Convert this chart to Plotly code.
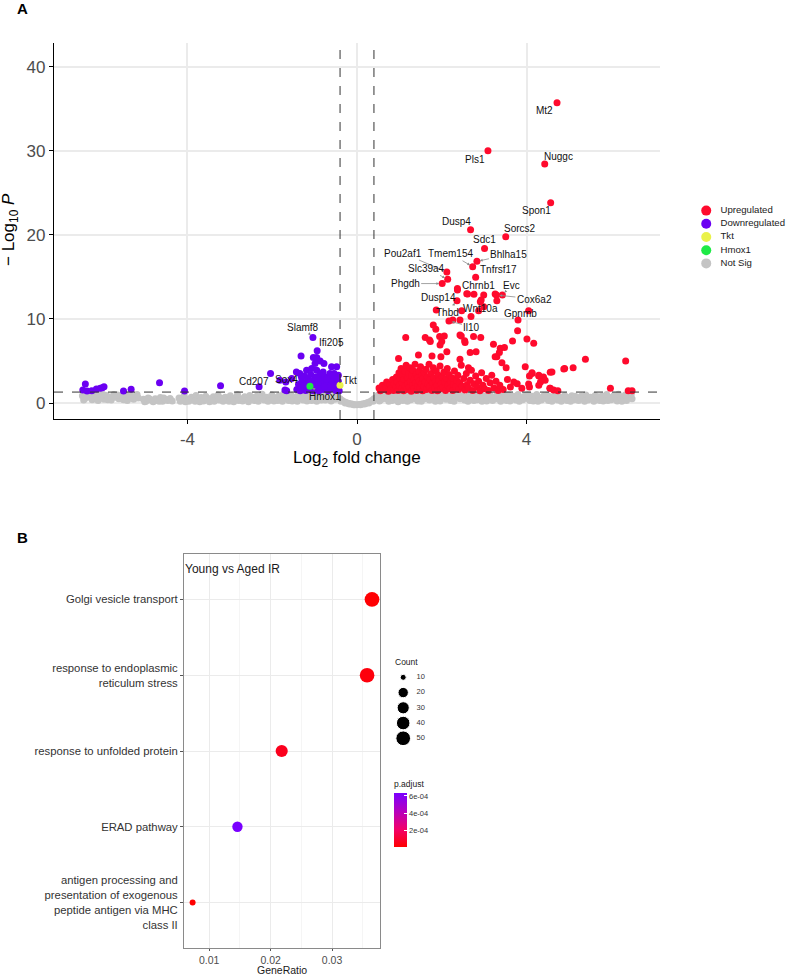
import plotly.graph_objects as go
import numpy as np

W, H = 789, 978
FONT = "Liberation Sans, Arial, sans-serif"

# ---------------- Panel A data (volcano) ----------------
fc_cutoff = 0.4
p_cutoff = 0.05

up_points = [
    (1.80, 9.27), (1.86, 8.76), (1.95, 7.9), (2.0, 7.3), (1.15, 7.8), (1.71, 7.5), (2.43, 8.1), (2.54, 7.4),
    (2.75, 7.9), (2.92, 7.8), (2.12, 6.1), (1.98, 5.5), (2.43, 5.2), (2.63, 4.2), (2.81, 6.1), (3.22, 7.0),
    (3.38, 6.5), (3.30, 5.5), (3.42, 4.8), (3.52, 4.2), (3.79, 8.6), (4.01, 7.6), (4.17, 7.1), (3.97, 4.3),
    (4.13, 3.5), (4.29, 3.2), (4.40, 3.1), (4.60, 3.7), (4.90, 4.1), (3.78, 2.3), (4.07, 1.9), (4.56, 1.75),
    (0.98, 5.3), (1.45, 5.7), (2.37, 13.6), (2.59, 13.0), (2.99, 12.84), (3.26, 12.96), (2.91, 12.05),
    (2.26, 9.87), (2.43, 9.87), (2.69, 10.3), (2.47, 10.97), (2.87, 10.97), (2.99, 11.45), (2.61, 12.96),
    (1.87, 11.06), (4.05, 10.97), (3.80, 9.87), (1.61, 7.8), (1.96, 6.9), (2.06, 7.97), (1.73, 7.3),
    (2.46, 7.97), (2.55, 7.2), (3.48, 6.6), (3.67, 7.37), (3.36, 6.0), (3.26, 5.5), (2.67, 6.0), (1.77, 5.6),
    (5.39, 5.2), (6.34, 5.0), (4.13, 3.6), (4.07, 3.2), (4.29, 3.3), (4.56, 3.65), (4.44, 2.7), (4.33, 2.5),
    (4.29, 2.1), (4.05, 2.26), (4.88, 4.04), (5.10, 4.2), (4.55, 1.75), (4.64, 1.55), (4.74, 1.46),
    (5.98, 1.75), (6.40, 1.46), (6.49, 1.46), (3.89, 1.75),
    (0.52, 1.78), (0.55, 1.45), (0.6, 2.1), (0.63, 1.6), (0.68, 1.9), (0.7, 2.5), (0.74, 1.4), (0.78, 2.2),
    (0.8, 1.7), (0.84, 2.8), (0.86, 1.5), (0.88, 2.3),
    (0.92, 1.9), (0.93, 3.1), (0.95, 2.5), (0.97, 1.5), (0.99, 3.6), (1.0, 2.1), (1.02, 2.9), (1.04, 4.1),
    (1.05, 1.7), (1.07, 2.4), (1.08, 3.3), (1.1, 1.45), (1.11, 2.8), (1.13, 3.8), (1.14, 2.0), (1.16, 4.5),
    (1.17, 1.6), (1.19, 3.0), (1.2, 2.3), (1.22, 3.5), (1.23, 1.9), (1.25, 4.2), (1.26, 2.6), (1.28, 1.4),
    (1.29, 3.2), (1.31, 2.1), (1.32, 3.9), (1.34, 1.7), (1.35, 2.8), (1.37, 4.6), (1.38, 2.4), (1.4, 3.4),
    (1.41, 1.5), (1.43, 2.0), (1.44, 3.0), (1.46, 3.8), (1.47, 2.6), (1.49, 1.8), (1.5, 4.3), (1.52, 2.3),
    (1.53, 3.3), (1.55, 1.45), (1.56, 2.9), (1.58, 2.0), (1.59, 3.6),
    (1.61, 2.5), (1.63, 4.0), (1.64, 1.6), (1.66, 3.1), (1.68, 2.2), (1.7, 4.6), (1.71, 1.9), (1.73, 2.8),
    (1.75, 3.5), (1.77, 1.5), (1.78, 2.4), (1.8, 4.2), (1.82, 3.0), (1.83, 1.8), (1.85, 2.6), (1.87, 3.8),
    (1.89, 2.1), (1.9, 1.45), (1.92, 3.3), (1.94, 2.7), (1.96, 4.4), (1.97, 1.7), (1.99, 2.3), (2.01, 3.1),
    (2.03, 1.9), (2.05, 3.7), (2.07, 2.5), (2.09, 1.5), (2.11, 2.9), (2.13, 4.1), (2.15, 2.1), (2.17, 3.4),
    (2.19, 1.7), (2.21, 2.6), (2.24, 3.0), (2.26, 1.5), (2.28, 2.2), (2.3, 3.8), (2.33, 1.9), (2.35, 2.7),
    (2.38, 3.3), (2.4, 1.6), (2.43, 2.4), (2.46, 4.5), (2.48, 2.0),
    (2.52, 2.9), (2.55, 1.55), (2.58, 3.5), (2.6, 2.2), (2.63, 1.8), (2.67, 2.7), (2.7, 3.9), (2.73, 1.5),
    (2.76, 2.3), (2.8, 3.2), (2.83, 1.9), (2.87, 2.6), (2.9, 1.45), (2.94, 3.6), (2.97, 2.1), (3.01, 1.7),
    (3.05, 2.9), (3.1, 1.5), (3.14, 2.4), (3.18, 3.3), (3.23, 1.8), (3.28, 2.6), (3.33, 1.5), (3.37, 2.1),
    (3.45, 1.6), (3.55, 2.8), (3.62, 1.9), (3.7, 2.5),
]

down_points = [
    (-6.41, 2.26), (-6.47, 1.55), (-6.37, 1.43), (-6.26, 1.46), (-6.15, 1.66), (-6.06, 1.75), (-6.01, 1.82),
    (-5.97, 1.94), (-5.51, 1.43), (-5.33, 1.63), (-4.66, 2.4), (-4.07, 1.43), (-3.22, 2.06), (-2.31, 1.94),
    (-1.82, 2.7), (-1.68, 2.5), (-1.54, 2.9), (-1.35, 3.5), (-1.31, 3.06), (-1.19, 3.9), (-1.07, 4.1),
    (-0.95, 3.9), (-0.80, 3.7), (-0.64, 3.5), (-0.54, 3.5), (-0.44, 3.3), (-1.66, 1.46), (-1.70, 1.55),
    (-1.32, 5.6), (-1.03, 5.4), (-0.95, 5.4), (-0.87, 5.0), (-0.78, 4.7), (-0.99, 4.7), (-0.60, 4.3),
    (-0.48, 4.3),
    (-1.42, 1.6), (-1.38, 2.2), (-1.34, 1.45), (-1.3, 2.6), (-1.27, 1.9), (-1.24, 3.2), (-1.21, 1.5),
    (-1.18, 2.4), (-1.15, 2.9), (-1.12, 1.6), (-1.09, 3.4), (-1.06, 2.1), (-1.03, 1.45), (-1.01, 2.7),
    (-0.98, 3.1), (-0.96, 1.8), (-0.93, 2.4), (-0.9, 1.45), (-0.88, 3.3), (-0.85, 2.0), (-0.83, 2.8),
    (-0.8, 1.6), (-0.78, 2.3), (-0.75, 3.1), (-0.73, 1.9), (-0.7, 2.6), (-0.68, 1.45), (-0.65, 2.2),
    (-0.63, 3.0), (-0.6, 1.7), (-0.58, 2.5), (-0.55, 1.9), (-0.53, 2.9), (-0.5, 1.5), (-0.48, 2.2),
    (-0.46, 1.7), (-0.44, 2.6), (-0.42, 1.45), (-1.25, 2.05), (-1.1, 2.55), (-0.95, 2.95), (-0.9, 2.15),
    (-0.72, 2.85), (-0.62, 1.95), (-1.0, 1.95), (-0.86, 1.7), (-1.17, 1.9), (-0.77, 1.95),
]

not_sig_points = [
    (-6.48, 0.85), (-6.42, 0.55), (-6.37, 1.05), (-6.31, 0.7), (-6.25, 0.4), (-6.2, 0.95), (-6.14, 0.6),
    (-6.08, 1.1), (-6.02, 0.75), (-5.97, 0.45), (-5.91, 0.9), (-5.85, 0.65), (-5.8, 0.35), (-5.74, 1.0),
    (-5.68, 0.7), (-5.62, 0.5), (-5.57, 0.85), (-5.51, 0.4), (-5.45, 0.95), (-5.39, 0.6), (-5.33, 0.8),
    (-5.27, 0.45), (-5.21, 0.9), (-5.16, 0.6),
    (-6.45, 0.35), (-6.34, 0.8), (-6.22, 0.6), (-6.11, 0.3), (-5.99, 1.0), (-5.88, 0.4), (-5.76, 0.7),
    (-5.65, 0.95), (-5.53, 0.6), (-5.42, 0.3), (-5.3, 0.55), (-5.19, 1.0),
    (-5.04, 0.45), (-4.98, 0.2), (-4.93, 0.6), (-4.87, 0.35), (-4.81, 0.15), (-4.76, 0.5), (-4.7, 0.3),
    (-4.64, 0.65), (-4.59, 0.2), (-4.53, 0.45), (-4.47, 0.3), (-4.41, 0.55), (-4.36, 0.25), (-5.01, 0.15),
    (-4.9, 0.5), (-4.79, 0.3), (-4.67, 0.2), (-4.56, 0.6), (-4.44, 0.4),
    (-4.2, 0.6), (-4.14, 0.3), (-4.08, 0.85), (-4.03, 0.45), (-3.97, 0.2), (-3.91, 0.7), (-3.85, 0.5),
    (-3.8, 0.9), (-3.74, 0.35), (-3.68, 0.65), (-3.62, 0.25), (-3.57, 0.8), (-3.51, 0.55), (-3.45, 0.3),
    (-3.39, 0.75), (-3.34, 0.4), (-3.28, 0.95), (-3.22, 0.6), (-3.16, 0.2), (-3.11, 0.7), (-3.05, 0.45),
    (-2.99, 0.85), (-2.93, 0.3), (-2.88, 0.6), (-2.82, 1.0), (-2.76, 0.5), (-2.7, 0.25), (-2.65, 0.75),
    (-2.59, 0.4), (-2.53, 0.9), (-2.47, 0.6), (-2.42, 0.3), (-2.36, 0.8), (-2.3, 0.5), (-2.24, 1.05),
    (-2.19, 0.35), (-2.13, 0.7), (-2.07, 0.45), (-2.01, 0.95), (-1.96, 0.25), (-1.9, 0.65), (-1.84, 0.85),
    (-1.78, 0.4), (-1.73, 1.1), (-1.67, 0.55), (-1.61, 0.3), (-1.55, 0.9), (-1.5, 0.7), (-1.44, 0.45),
    (-1.38, 1.0), (-1.32, 0.6), (-1.27, 0.35), (-1.21, 0.85), (-1.15, 0.5), (-1.09, 1.1), (-1.04, 0.7),
    (-0.98, 0.4), (-0.92, 0.95), (-0.86, 0.6), (-0.81, 0.8), (-0.75, 0.35), (-0.69, 1.0), (-0.63, 0.55),
    (-0.58, 0.75), (-0.52, 0.45), (-0.46, 0.6),
    (-4.17, 0.2), (-4.05, 0.15), (-3.94, 0.35), (-3.82, 0.2), (-3.71, 0.15), (-3.6, 0.5), (-3.48, 0.15),
    (-3.37, 0.2), (-3.25, 0.35), (-3.14, 0.5), (-3.02, 0.2), (-2.91, 0.15), (-2.79, 0.3), (-2.68, 0.55),
    (-2.56, 0.15), (-2.45, 0.65), (-2.33, 0.2), (-2.22, 0.55), (-2.1, 0.2), (-1.99, 0.6), (-1.87, 0.3),
    (-1.76, 0.2), (-1.64, 0.8), (-1.53, 0.25), (-1.41, 0.2), (-1.3, 0.8), (-1.18, 0.25), (-1.07, 0.3),
    (-0.95, 0.2), (-0.84, 0.35), (-0.72, 0.7), (-0.61, 0.25), (-0.49, 0.95),
    (-0.4, 0.5), (-0.35, 0.3), (-0.3, 0.15), (-0.25, 0.05), (-0.2, -0.05), (-0.15, -0.1), (-0.1, -0.15),
    (-0.05, -0.2), (0.0, -0.2), (0.05, -0.18), (0.1, -0.15), (0.15, -0.1), (0.2, -0.05), (0.25, 0.05),
    (0.3, 0.15), (0.35, 0.3), (0.4, 0.5), (-0.38, 0.2), (-0.28, 0.0), (-0.18, -0.12), (-0.08, -0.22),
    (0.08, -0.22), (0.18, -0.12), (0.28, 0.0), (0.38, 0.2),
    (0.45, 0.6), (0.5, 0.95), (0.56, 0.4), (0.61, 0.8), (0.67, 1.1), (0.72, 0.5), (0.78, 0.85), (0.83, 0.3),
    (0.89, 1.0), (0.94, 0.65), (1.0, 0.35), (1.05, 0.9), (1.11, 0.55), (1.16, 1.15), (1.22, 0.7),
    (1.27, 0.4), (1.33, 0.95), (1.38, 0.6), (1.44, 0.25), (1.49, 0.85), (1.55, 1.1), (1.6, 0.5),
    (1.66, 0.75), (1.71, 0.35), (1.77, 1.0), (1.82, 0.6), (1.88, 0.9), (1.93, 0.4), (1.99, 0.7),
    (2.04, 1.05), (2.1, 0.45), (2.15, 0.8), (2.21, 0.3), (2.26, 0.95), (2.32, 0.6), (2.37, 1.1),
    (2.43, 0.5), (2.48, 0.85), (2.54, 0.35), (2.59, 0.7), (2.65, 1.0), (2.7, 0.55), (2.76, 0.3),
    (2.81, 0.9), (2.87, 0.65), (2.92, 1.1), (2.98, 0.4), (3.03, 0.8), (3.09, 0.5), (3.14, 0.95),
    (3.2, 0.3), (3.25, 0.7), (3.31, 1.05), (3.36, 0.45), (3.42, 0.85), (3.47, 0.6), (3.53, 0.3),
    (3.58, 0.95), (3.64, 0.55), (3.69, 0.8), (3.75, 0.35), (3.8, 1.0), (3.86, 0.65), (3.91, 0.4),
    (3.97, 0.9), (4.02, 0.55), (4.08, 0.3), (4.13, 0.8), (4.19, 0.5), (4.24, 1.0), (4.3, 0.65),
    (4.35, 0.35), (4.41, 0.85), (4.46, 0.55), (4.52, 0.3), (4.57, 0.75), (4.63, 0.5), (4.68, 0.95),
    (4.74, 0.35), (4.79, 0.7), (4.85, 0.45), (4.9, 0.9), (4.96, 0.3), (5.01, 0.65), (5.07, 0.85),
    (5.12, 0.4), (5.18, 0.6), (5.23, 0.3), (5.29, 0.8), (5.34, 0.5), (5.4, 0.95), (5.45, 0.35),
    (5.51, 0.7), (5.56, 0.45), (5.62, 0.9), (5.67, 0.6), (5.73, 0.3), (5.78, 0.8), (5.84, 0.5),
    (5.89, 1.0), (5.95, 0.65), (6.0, 0.4), (6.06, 0.85), (6.11, 0.55), (6.17, 1.05), (6.22, 0.7),
    (6.28, 0.45), (6.33, 0.95), (6.39, 0.6), (6.44, 0.85), (6.49, 0.5),
    (0.53, 0.25), (0.64, 0.55), (0.75, 0.2), (0.86, 0.65), (0.97, 0.15), (1.08, 0.3), (1.19, 0.2),
    (1.3, 0.6), (1.41, 0.45), (1.52, 0.2), (1.63, 0.95), (1.74, 0.65), (1.85, 0.2), (1.96, 0.25),
    (2.07, 0.75), (2.18, 0.55), (2.29, 0.2), (2.4, 0.75), (2.51, 0.6), (2.62, 0.2), (2.73, 0.85),
    (2.84, 0.4), (2.95, 0.2), (3.06, 0.25), (3.17, 0.65), (3.28, 0.5), (3.39, 0.2), (3.5, 0.9),
    (3.61, 0.25), (3.72, 0.55), (3.83, 0.2), (3.94, 0.7), (4.05, 0.95), (4.16, 0.25), (4.27, 0.2),
    (4.38, 0.6), (4.49, 0.9), (4.6, 0.2), (4.71, 0.6), (4.82, 0.2), (4.93, 0.6), (5.04, 0.2),
    (5.15, 0.8), (5.26, 0.6), (5.37, 0.2), (5.48, 0.6), (5.59, 0.2), (5.7, 0.75), (5.81, 0.25),
    (5.92, 0.3), (6.03, 0.7), (6.14, 0.25), (6.25, 0.2), (6.36, 0.3), (6.47, 1.0),
]

# labelled genes: name, log2FC, -log10P, group
gene_names = ["Mt2", "Pls1", "Nuggc", "Spon1", "Dusp4", "Sorcs2", "Sdc1", "Bhlha15", "Tmem154",
              "Tnfrsf17", "Pou2af1", "Slc39a4", "Phgdh", "Chrnb1", "Evc", "Cox6a2", "Dusp14", "Thbd",
              "Wnt10a", "Gpnmb", "Il10", "Slamf8", "Ifi205", "Cd207", "Sox4", "Tkt", "Hmox1"]
gene_fc = [4.72, 3.09, 4.43, 4.57, 2.68, 3.51, 3.01, 2.83, 2.73, 2.80, 2.12, 2.14, 2.01, 2.76, 3.43,
           3.29, 2.37, 2.36, 2.93, 3.30, 2.17, -1.04, -0.94, -2.04, -1.43, -0.40, -1.11]
gene_p = [35.7, 29.99, 28.42, 23.8, 20.6, 19.77, 18.38, 16.84, 16.2, 14.95, 15.57, 14.7, 14.2, 12.92,
          12.84, 12.84, 13.44, 12.17, 12.25, 12.17, 9.75, 7.8, 6.2, 3.5, 3.7, 2.1, 2.0]
gene_group = ["Upregulated"] * 21 + ["Downregulated"] * 4 + ["Tkt", "Hmox1"]
# label offsets in pixels (style)
label_dx = [-13, -13, 14, -14, -14, 14, 0, 32, -22, 23, -44, -21, -37, 5, 9, 38, -19, -10, -1, 24, 23,
            -10, 14, -17, -10, 10, 15]
label_dy = [8, 9, -7, 8, -8, -8, -9, -7, -13, -8, -19, -11, 0, -9, -10, 4, 8, 12, 9, 13, 6,
            -10, -8, 8, 8, -5, 10]

groups = ["Upregulated", "Downregulated", "Tkt", "Hmox1", "Not Sig"]
group_colors = {"Upregulated": "#FF0A2D", "Downregulated": "#6B00F2", "Tkt": "#EAF24A",
                "Hmox1": "#1EEA46", "Not Sig": "#C4C4C4"}

# ---------------- Panel B data (GO dot plot) ----------------
go_terms = ["Golgi vesicle transport",
            "response to endoplasmic<br>reticulum stress",
            "response to unfolded protein",
            "ERAD pathway",
            "antigen processing and<br>presentation of exogenous<br>peptide antigen via MHC<br>class II"]
gene_ratio = [0.0365, 0.0357, 0.0218, 0.0146, 0.0073]
go_count = [50, 49, 30, 20, 10]
p_adjust = [8e-6, 2.5e-5, 6e-5, 6.35e-4, 2e-6]
count_levels = [10, 20, 30, 40, 50]
padj_ticks = [2e-4, 4e-4, 6e-4]


def size_of(c):
    c = np.asarray(c, dtype=float)
    return 6 + 8.7 * np.sqrt((c - 10) / (50 - 10))


fig = go.Figure()

ns_x, ns_y = zip(*not_sig_points)
dn_x, dn_y = zip(*down_points)
up_x, up_y = zip(*up_points)


def gene_sel(g):
    return ([x for x, gg in zip(gene_fc, gene_group) if gg == g],
            [y for y, gg in zip(gene_p, gene_group) if gg == g])


series = {
    "Not Sig": (list(ns_x), list(ns_y)),
    "Downregulated": (list(dn_x) + gene_sel("Downregulated")[0], list(dn_y) + gene_sel("Downregulated")[1]),
    "Upregulated": (list(up_x) + gene_sel("Upregulated")[0], list(up_y) + gene_sel("Upregulated")[1]),
    "Tkt": gene_sel("Tkt"),
    "Hmox1": gene_sel("Hmox1"),
}
for g in ["Not Sig", "Downregulated", "Upregulated", "Tkt", "Hmox1"]:
    xs, ys = series[g]
    fig.add_trace(go.Scatter(x=xs, y=ys, mode="markers", xaxis="x", yaxis="y", showlegend=False,
                             marker=dict(size=7, color=group_colors[g], line=dict(width=0), opacity=1),
                             hoverinfo="skip"))

# ---- volcano legend (drawn on its own small axis)
fig.add_trace(go.Scatter(x=[0.0] * 5, y=groups, mode="markers", xaxis="x4", yaxis="y4", showlegend=False,
                         marker=dict(size=10, color=[group_colors[g] for g in groups], opacity=1),
                         hoverinfo="skip"))
fig.add_trace(go.Scatter(x=[0.16] * 5, y=groups, mode="text", text=groups, textposition="middle right",
                         xaxis="x4", yaxis="y4", showlegend=False, hoverinfo="skip",
                         textfont=dict(size=9.6, color="#1a1a1a", family=FONT)))

# ---- GO dot plot
fig.add_trace(go.Scatter(
    x=gene_ratio, y=go_terms, mode="markers", xaxis="x2", yaxis="y2", showlegend=False,
    marker=dict(size=size_of(go_count), color=p_adjust, cmin=min(p_adjust), cmax=max(p_adjust),
                opacity=1,
                colorscale=[[0, "#FF0000"], [0.33, "#F2006A"], [0.66, "#B600BE"], [1, "#7A00FF"]],
                line=dict(width=0),
                colorbar=dict(x=394 / W, xanchor="left", y=1 - 812.5 / H, yanchor="middle",
                              len=69 / H, lenmode="fraction", thickness=13, xpad=0, ypad=0,
                              outlinewidth=0, tickvals=padj_ticks,
                              ticktext=["2e-04", "4e-04", "6e-04"], ticks="inside", ticklen=3,
                              tickcolor="white", tickfont=dict(size=7.5, color="#333", family=FONT),
                              title=dict(text="p.adjust", side="top",
                                         font=dict(size=8.5, color="#1a1a1a", family=FONT)))),
    hoverinfo="skip"))

# ---- Count size legend
fig.add_trace(go.Scatter(x=[0.2] * 5, y=count_levels, mode="markers", xaxis="x3", yaxis="y3",
                         showlegend=False, marker=dict(size=size_of(count_levels), color="black", opacity=1),
                         hoverinfo="skip"))
fig.add_trace(go.Scatter(x=[0.49] * 5, y=count_levels, mode="text", text=[str(c) for c in count_levels],
                         textposition="middle right", xaxis="x3", yaxis="y3", showlegend=False,
                         textfont=dict(size=7.5, color="#333", family=FONT), hoverinfo="skip"))

tickfontA = dict(size=17, color="#4d4d4d", family=FONT)

fig.update_layout(
    width=W, height=H, margin=dict(l=0, r=0, t=0, b=0), autosize=False,
    paper_bgcolor="white", plot_bgcolor="rgba(0,0,0,0)", font=dict(family=FONT),
    xaxis=dict(domain=[54 / W, 660 / W], range=[-7.15, 7.15], anchor="y",
               tickvals=[-4, 0, 4], ticktext=["-4", "0", "4"], tickfont=tickfontA,
               showgrid=True, gridcolor="#ebebeb", gridwidth=1.6, zeroline=False,
               showline=True, linecolor="black", linewidth=1.3, ticks="outside", ticklen=4,
               tickcolor="black", tickwidth=1.1),
    yaxis=dict(domain=[1 - 419 / H, 1 - 43 / H], range=[-1.9, 42.8], anchor="x",
               tickvals=[0, 10, 20, 30, 40], tickfont=tickfontA,
               showgrid=True, gridcolor="#ebebeb", gridwidth=1.6, zeroline=False,
               showline=True, linecolor="black", linewidth=1.3, ticks="outside", ticklen=4,
               tickcolor="black", tickwidth=1.1),
    xaxis2=dict(domain=[184 / W, 380 / W], range=[0.0059, 0.0378], anchor="y2",
                tickvals=[0.01, 0.02, 0.03], ticktext=["0.01", "0.02", "0.03"],
                tickfont=dict(size=10.5, color="#4d4d4d", family=FONT),
                showgrid=True, gridcolor="#ebebeb", gridwidth=1, zeroline=False,
                minor=dict(tickvals=[0.015, 0.025, 0.035], showgrid=True, gridcolor="#f5f5f5",
                           gridwidth=0.8, ticks=""),
                showline=True, mirror=True, linecolor="#8a8a8a", linewidth=1,
                ticks="outside", ticklen=2, tickcolor="#555"),
    yaxis2=dict(domain=[1 - 948 / H, 1 - 554 / H], anchor="x2", type="category",
                categoryorder="array", categoryarray=go_terms[::-1], range=[-0.6, 4.6],
                tickfont=dict(size=11.3, color="#333", family=FONT),
                showgrid=True, gridcolor="#ebebeb", gridwidth=1,
                showline=True, mirror=True, linecolor="#8a8a8a", linewidth=1,
                ticks="outside", ticklen=3, tickcolor="#555"),
    xaxis3=dict(domain=[394 / W, 440 / W], range=[0, 1], anchor="y3", visible=False),
    yaxis3=dict(domain=[1 - 745 / H, 1 - 670 / H], range=[54.4, 5.2], anchor="x3", visible=False),
    xaxis4=dict(domain=[700 / W, 789 / W], range=[-0.07, 0.93], anchor="y4", visible=False),
    yaxis4=dict(domain=[1 - 270 / H, 1 - 204 / H], type="category", categoryorder="array",
                categoryarray=groups, range=[4.5, -0.5], anchor="x4", visible=False),
)

shapes = []
for xv in [-fc_cutoff, fc_cutoff]:
    shapes.append(dict(type="line", xref="x", yref="y domain", x0=xv, x1=xv, y0=0, y1=1,
                       line=dict(color="#333", width=1, dash="dash")))
shapes.append(dict(type="line", xref="x domain", yref="y", x0=0, x1=1,
                   y0=-np.log10(p_cutoff), y1=-np.log10(p_cutoff),
                   line=dict(color="#333", width=1, dash="dash")))
fig.update_layout(shapes=shapes)

ann = []
for name, gx, gy, dx, dy in zip(gene_names, gene_fc, gene_p, label_dx, label_dy):
    ann.append(dict(x=gx, y=gy, xref="x", yref="y", text=name, showarrow=True, ax=dx, ay=dy,
                    arrowhead=2, arrowsize=0.7, arrowwidth=0.8, arrowcolor="#8c8c8c", standoff=3,
                    font=dict(size=10, color="#111", family=FONT)))


def pann(text, px, py, size, color="black", xanchor="center", yanchor="middle", **kw):
    return dict(text=text, x=px / W, y=1 - py / H, xref="paper", yref="paper", showarrow=False,
                xanchor=xanchor, yanchor=yanchor, font=dict(size=size, color=color, family=FONT), **kw)


ann += [
    pann("Log<sub>2</sub> fold change", 357, 459, 17),
    pann("\u2212 Log<sub>10</sub> <i>P</i>", 10, 230, 17, textangle=-90),
    pann("<b>A</b>", 22.5, 9, 15),
    pann("<b>B</b>", 22.5, 537, 15),
    pann("Young vs Aged IR", 183, 569, 12, "#1a1a1a", xanchor="left"),
    pann("GeneRatio", 282, 970, 10.5, "#1a1a1a", borderpad=0),
    pann("Count", 393, 662, 8.5, "#1a1a1a", xanchor="left"),
]
fig.update_layout(annotations=ann)

# remove the browser's default 8px body margin so the figure sits at the page origin; hide modebar
fig.write_html("out.html", config={"displayModeBar": False},
               post_script="document.body.style.margin='0';document.documentElement.style.margin='0';")
